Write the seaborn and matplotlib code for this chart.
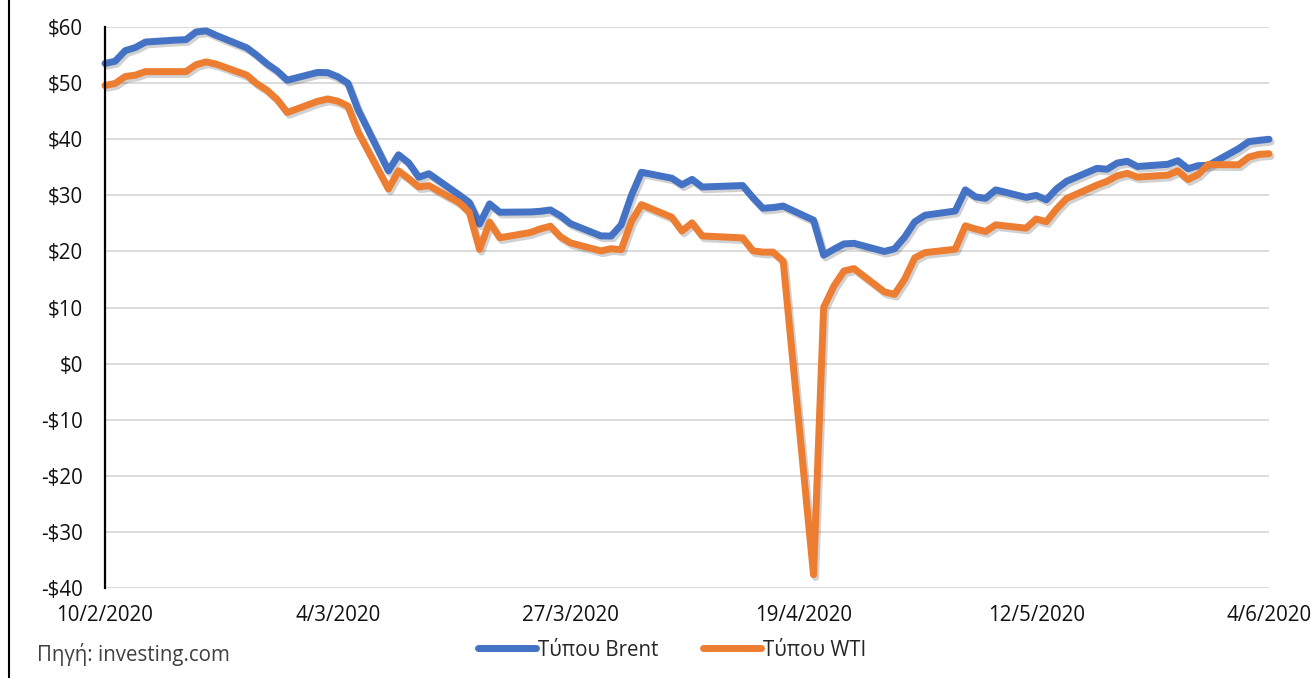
import seaborn as sns
import matplotlib.pyplot as plt
import matplotlib.patheffects as pe
from matplotlib.lines import Line2D
from matplotlib.ticker import MultipleLocator
import pandas as pd

# trading days (d/m/2020)
dates = [
    '10/2', '11/2', '12/2', '13/2', '14/2', '17/2', '18/2', '19/2', '20/2', '21/2',
    '24/2', '25/2', '26/2', '27/2', '28/2',
    '2/3', '3/3', '4/3', '5/3', '6/3', '9/3', '10/3', '11/3', '12/3', '13/3',
    '16/3', '17/3', '18/3', '19/3', '20/3', '23/3', '24/3', '25/3', '26/3', '27/3',
    '30/3', '31/3',
    '1/4', '2/4', '3/4', '6/4', '7/4', '8/4', '9/4', '13/4', '14/4', '15/4',
    '16/4', '17/4', '20/4', '21/4', '22/4', '23/4', '24/4', '27/4', '28/4', '29/4', '30/4',
    '1/5', '4/5', '5/5', '6/5', '7/5', '8/5', '11/5', '12/5', '13/5', '14/5',
    '15/5', '18/5', '19/5', '20/5', '21/5', '22/5', '25/5', '26/5', '27/5', '28/5', '29/5',
    '1/6', '2/6', '3/6', '4/6',
]

brent = [
    53.5, 53.9, 55.79, 56.34, 57.32, 57.67, 57.75, 59.12, 59.31, 58.50,
    56.30, 54.95, 53.43, 52.18, 50.52,
    51.90, 51.86, 51.13, 49.99, 45.27, 34.36, 37.22, 35.79, 33.22, 33.85,
    30.05, 28.73, 24.88, 28.47, 26.98, 27.03, 27.15, 27.39, 26.34, 24.93,
    22.76, 22.74,
    24.74, 29.94, 34.11, 33.05, 31.87, 32.84, 31.48, 31.74, 29.60, 27.69,
    27.82, 28.08, 25.57, 19.33, 20.37, 21.33, 21.44, 19.99, 20.46, 22.54, 25.27,
    26.44, 27.20, 30.97, 29.72, 29.46, 30.97, 29.63, 29.98, 29.19, 31.13,
    32.50, 34.81, 34.65, 35.75, 36.06, 35.13, 35.53, 36.17, 34.74, 35.29, 35.33,
    38.32, 39.57, 39.79, 39.99,
]

wti = [
    49.57, 49.94, 51.17, 51.42, 52.05, 52.05, 52.05, 53.29, 53.78, 53.38,
    51.43, 49.90, 48.73, 47.09, 44.76,
    46.75, 47.18, 46.78, 45.90, 41.28, 31.13, 34.36, 32.98, 31.50, 31.73,
    28.70, 26.95, 20.37, 25.22, 22.43, 23.36, 24.01, 24.49, 22.60, 21.51,
    20.09, 20.48,
    20.31, 25.32, 28.34, 26.08, 23.63, 25.09, 22.76, 22.41, 20.11, 19.87,
    19.87, 18.27, -37.63, 10.01, 13.78, 16.50, 16.94, 12.78, 12.34, 15.06, 18.84,
    19.78, 20.39, 24.56, 23.99, 23.55, 24.74, 24.14, 25.78, 25.29, 27.56,
    29.43, 31.82, 32.50, 33.49, 33.92, 33.25, 33.60, 34.35, 32.81, 33.71, 35.49,
    35.44, 36.81, 37.29, 37.41,
]

series = ['Τύπου Brent', 'Τύπου WTI']
colors = ['#4472C4', '#ED7D31']
yticks = list(range(-40, 61, 10))

sns.set_style('white')
plt.rcParams['font.family'] = ['Open Sans', 'DejaVu Sans']
fs = 14.8

df = pd.DataFrame({
    'date': pd.to_datetime([d + '/2020' for d in dates], format='%d/%m/%Y'),
    series[0]: brent,
    series[1]: wti,
})
long = df.melt(id_vars='date', var_name='type', value_name='price')

fig = plt.figure(figsize=(13.12, 6.78), dpi=100)
ax = fig.add_axes([105 / 1312, 1 - 588 / 678, (1269 - 105) / 1312, (588 - 27) / 678])

sns.lineplot(data=long, x='date', y='price', hue='type', hue_order=series,
             palette=colors, lw=5, ax=ax, legend=False)
for line in ax.lines:
    line.set_solid_joinstyle('round')
    line.set_solid_capstyle('round')
    line.set_clip_on(False)
    line.set_path_effects([pe.SimpleLineShadow(offset=(1.5, -2), alpha=0.18, shadow_color='black'),
                           pe.Normal()])

# x axis: date ticks every 23 days
xticks = pd.date_range('2020-02-10', periods=6, freq='23D')
ax.set_xlim(xticks[0], xticks[-1])
ax.set_xticks(xticks)
ax.set_xticklabels([f'{d.day}/{d.month}/{d.year}' for d in xticks])

ax.set_ylim(-40, 60)
ax.set_yticks(yticks)
ax.set_yticklabels([f'${v}' if v >= 0 else f'-${-v}' for v in yticks])
ax.yaxis.set_minor_locator(MultipleLocator(5))

ax.set_xlabel('')
ax.set_ylabel('')
ax.grid(axis='y', which='major', color='#D9D9D9', lw=1.3)
ax.grid(axis='x', visible=False)
ax.set_axisbelow(True)
for s in ['top', 'right', 'bottom']:
    ax.spines[s].set_visible(False)
ax.spines['left'].set_color('black')
ax.spines['left'].set_linewidth(1.6)

ax.tick_params(axis='y', which='major', direction='in', length=6, width=1.5,
               pad=16, labelsize=fs, labelcolor='#111111', color='black')
ax.tick_params(axis='y', which='minor', direction='in', length=4, width=1.5, color='black')
ax.tick_params(axis='x', length=0, pad=12, labelsize=fs, labelcolor='#111111')

handles = [Line2D([0], [0], color=c, lw=5, solid_capstyle='round') for c in colors]
fig.legend(handles, series, loc='center', bbox_to_anchor=(672 / 1312, 1 - 650 / 678),
           ncol=2, frameon=False, handlelength=2.8, handletextpad=0.1,
           columnspacing=2.2, fontsize=fs)

fig.text(37 / 1312, 1 - 655 / 678, 'Πηγή: investing.com', ha='left', va='center',
         fontsize=fs, color='#404040')

# left border of the original image
fig.add_artist(Line2D([9 / 1312, 9 / 1312], [0, 1], transform=fig.transFigure,
                      color='black', lw=1.5))

fig.savefig('out.png', dpi=100)
